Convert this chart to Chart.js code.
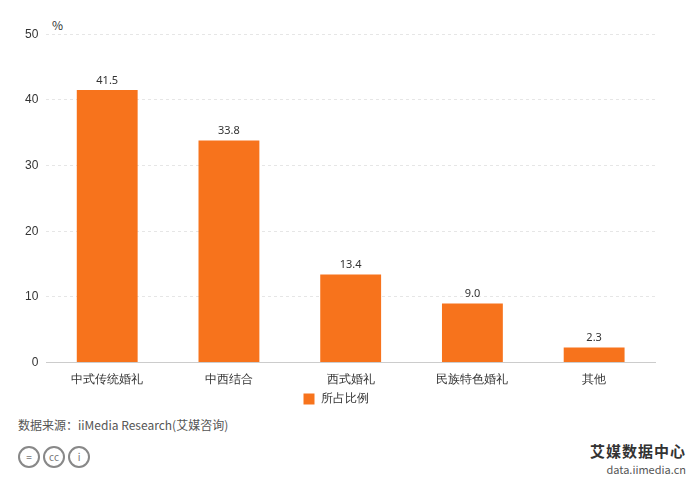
<!DOCTYPE html>
<html lang="zh">
<head>
  <meta charset="UTF-8">
  <title>婚礼类型所占比例</title>
  <script src="https://cdn.jsdelivr.net/npm/chart.js"></script>
  <style>
    body { margin: 0; background: #fff; font-family: "Noto Sans CJK SC", "Noto Sans", sans-serif; }
    #wrap { position: relative; width: 700px; height: 478px; }
    #box { position: absolute; left: 0; top: 19px; width: 680px; height: 396px; }
    #unit { position: absolute; left: 52px; top: 16px; font-size: 12px; color: #333; }
    #src { position: absolute; left: 18px; top: 416px; font-size: 12px; color: #555; }
    #logo { position: absolute; right: 14px; top: 438px; text-align: right; color: #333; }
    #logo b { font-size: 15px; letter-spacing: 1px; }
    #logo div { font-size: 11px; color: #555; line-height: 14px; }
    #icons { position: absolute; left: 18px; top: 446px; font-size: 12px; color: #777; }
    #icons span { display: inline-block; width: 18px; height: 18px; border: 2px solid #888; border-radius: 50%; text-align: center; line-height: 18px; margin-right: 3px; font-size: 10px; }
  </style>
</head>
<body>
<div id="wrap">
  <div id="unit">%</div>
  <div id="box"><canvas id="chart" width="680" height="396"></canvas></div>
  <div id="src">数据来源：iiMedia Research(艾媒咨询)</div>
  <div id="icons"><span>=</span><span>cc</span><span>i</span></div>
  <div id="logo"><b>艾媒数据中心</b><div>data.iimedia.cn</div></div>
</div>
<script>
const categories = ['中式传统婚礼', '中西结合', '西式婚礼', '民族特色婚礼', '其他'];
const shares = [41.5, 33.8, 13.4, 9.0, 2.3];
const yTicks = [0, 10, 20, 30, 40, 50];

const valueLabels = {
  id: 'valueLabels',
  afterDatasetsDraw(chart) {
    const ctx = chart.ctx;
    ctx.save();
    ctx.font = '11px "Noto Sans", sans-serif';
    ctx.fillStyle = '#333';
    ctx.textAlign = 'center';
    ctx.textBaseline = 'bottom';
    chart.getDatasetMeta(0).data.forEach((bar, i) => {
      ctx.fillText(shares[i].toFixed(1), bar.x, bar.y - 4);
    });
    ctx.restore();
  }
};

new Chart(document.getElementById('chart'), {
  type: 'bar',
  data: {
    labels: categories,
    datasets: [{
      label: '所占比例',
      data: shares,
      backgroundColor: '#F7731C',
      categoryPercentage: 1,
      barPercentage: 0.5
    }]
  },
  options: {
    responsive: false,
    animation: false,
    layout: { padding: { left: 17, right: 25, top: 7, bottom: 0 } },
    plugins: {
      legend: {
        position: 'bottom',
        labels: { boxWidth: 11, boxHeight: 11, color: '#333', font: { size: 12 }, padding: 4 }
      },
      tooltip: { enabled: false }
    },
    scales: {
      x: {
        grid: { display: false },
        border: { color: '#ccc' },
        ticks: { color: '#333', font: { size: 12 }, maxRotation: 0, padding: 2 }
      },
      y: {
        min: 0, max: 50,
        afterBuildTicks(axis) { axis.ticks = yTicks.map(v => ({ value: v })); },
        grid: { color: '#e6e6e6', drawTicks: false },
        border: { display: false, dash: [3, 3] },
        ticks: { color: '#333', font: { size: 12 }, padding: 8 }
      }
    }
  },
  plugins: [valueLabels]
});
</script>
</body>
</html>
